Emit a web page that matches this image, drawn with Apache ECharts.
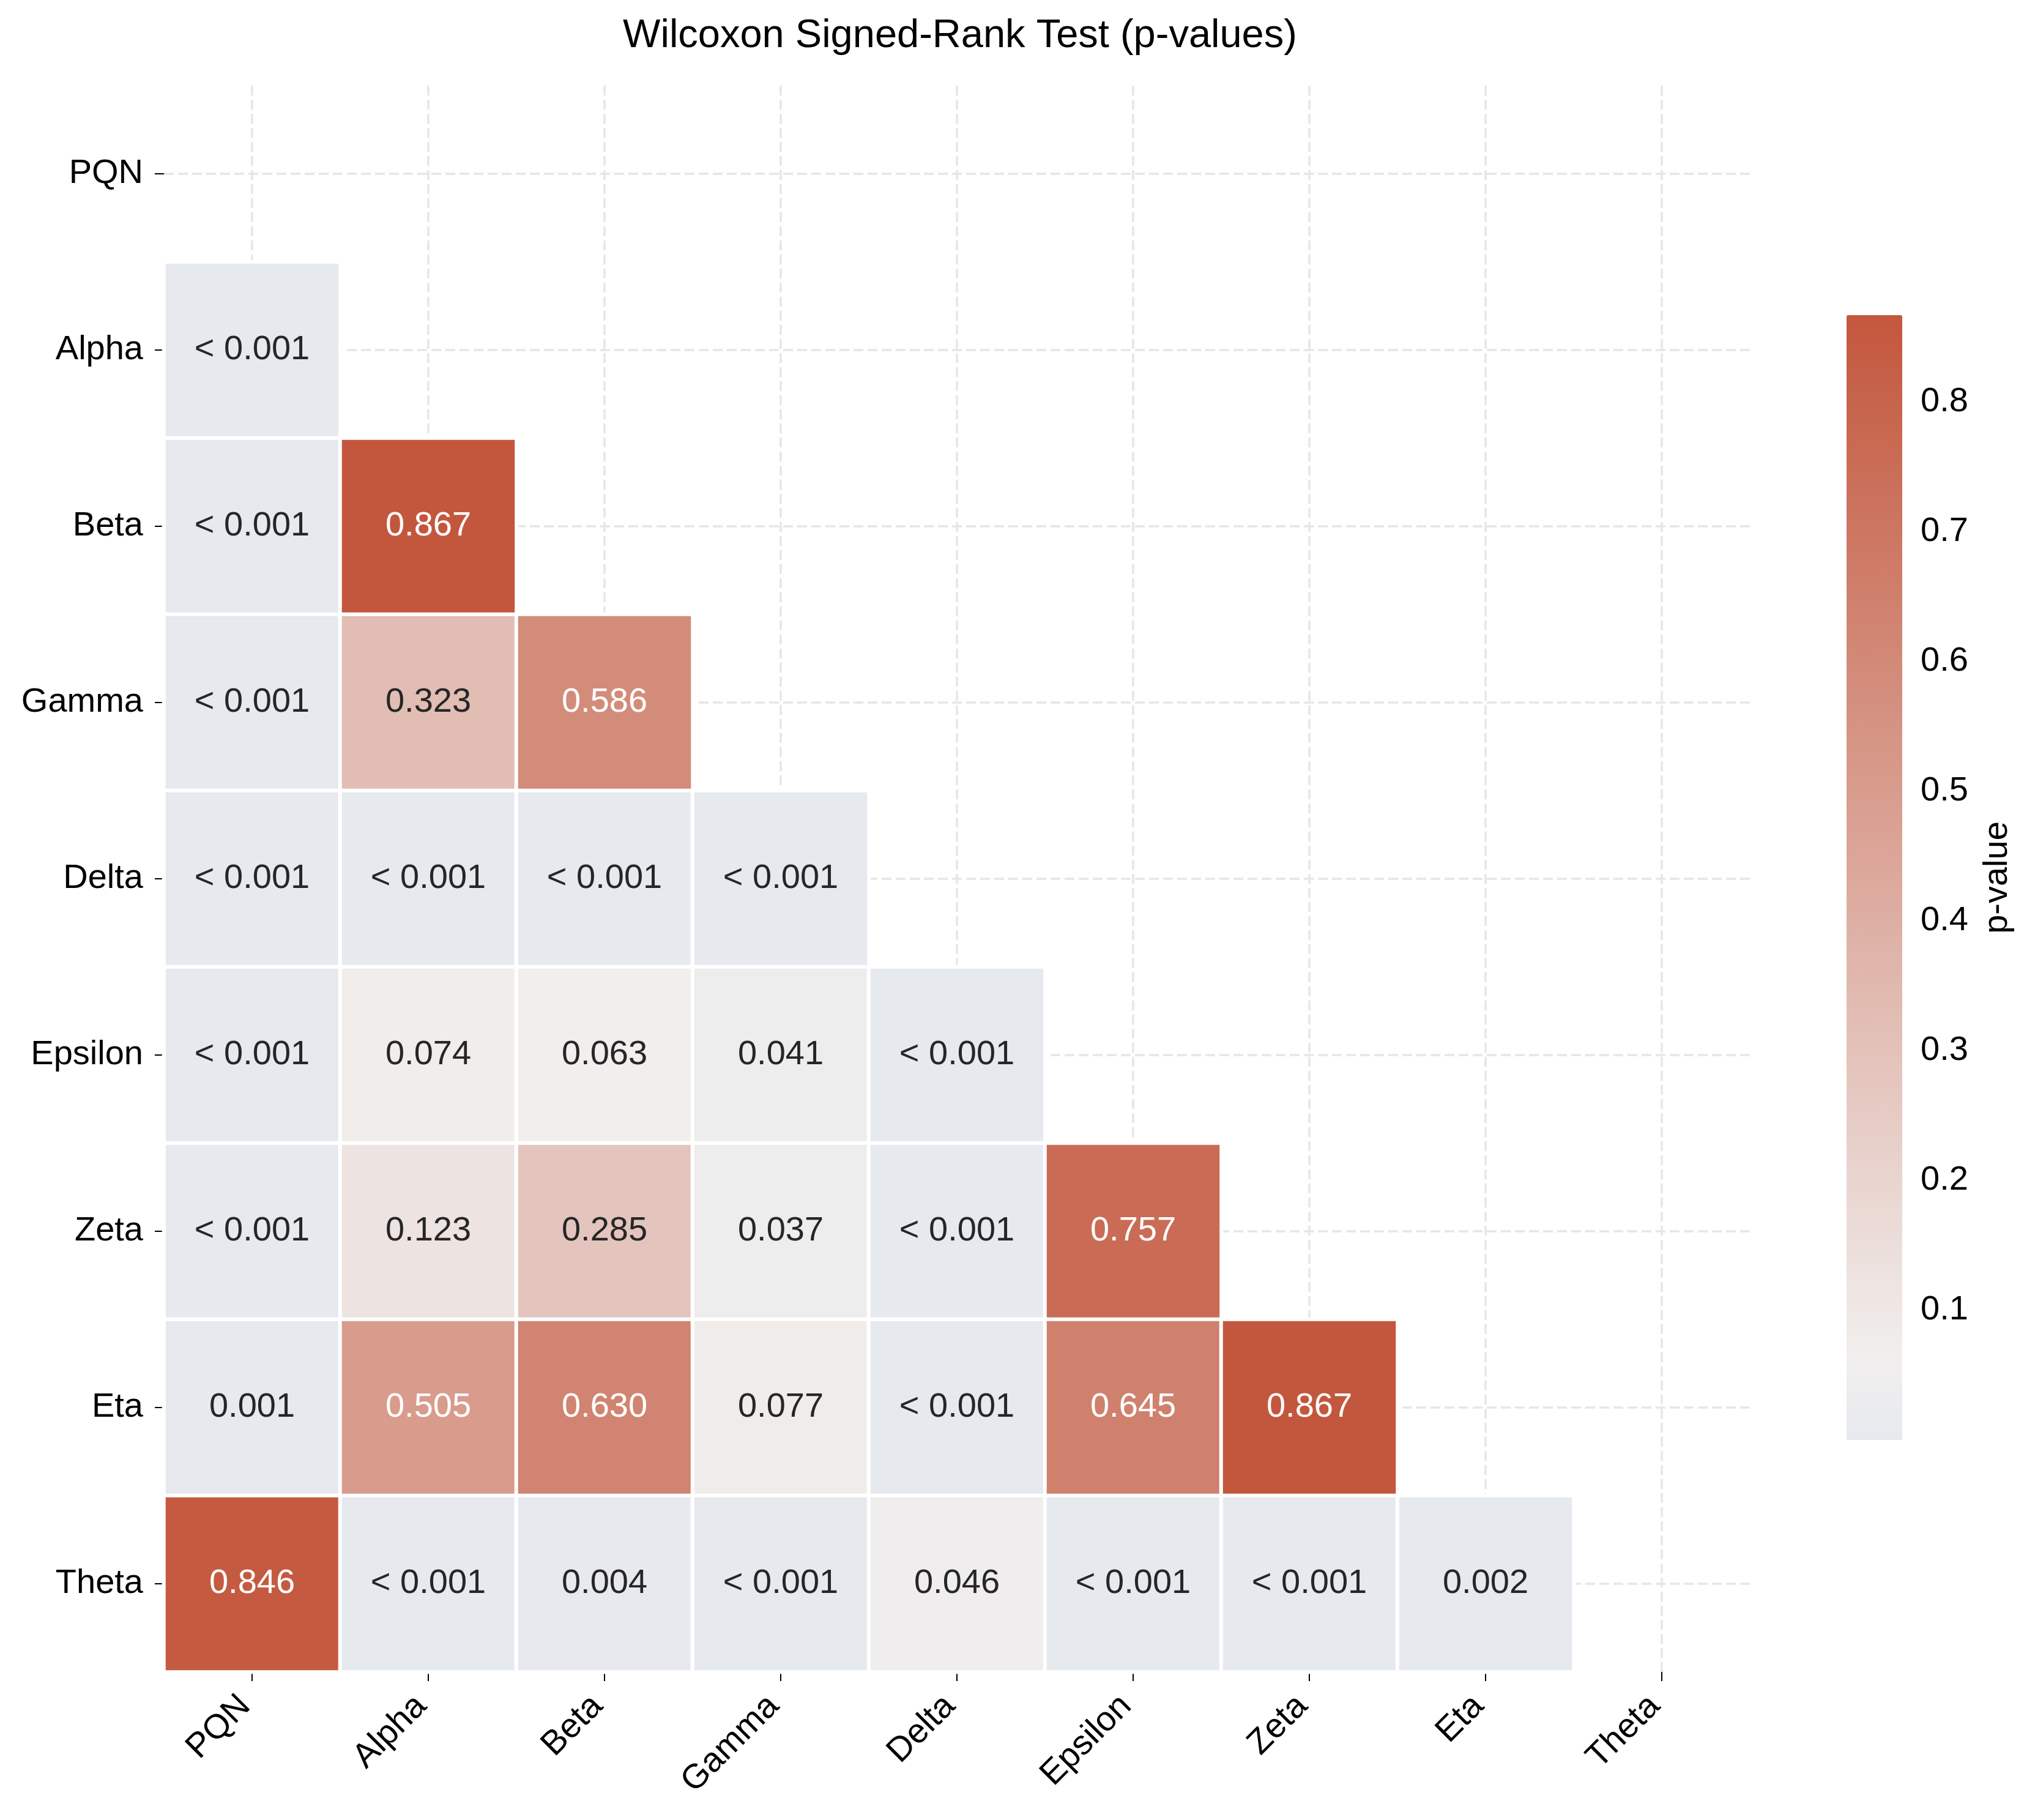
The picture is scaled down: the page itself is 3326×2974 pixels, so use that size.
<!DOCTYPE html>
<html>
<head>
    <meta charset="utf-8">
    <title>Wilcoxon Signed-Rank Test</title>
    <style>
        html, body { margin: 0; padding: 0; background: #fff; }
    </style>
</head>
<body>
    <div id="main" style="width: 3326px; height: 2974px;"></div>
    <script src="https://cdn.jsdelivr.net/npm/echarts@6/dist/echarts.min.js"></script>
    <script type="text/javascript">
        // groups, same order on both axes
        var categories = ['PQN', 'Alpha', 'Beta', 'Gamma', 'Delta', 'Epsilon', 'Zeta', 'Eta', 'Theta'];

        // cells shown as "< 0.001"
        var LT = 0.0005;

        // lower triangle, one row per group (columns from PQN onwards)
        var rowPQN = [];
        var rowAlpha = [LT];
        var rowBeta = [LT, 0.867];
        var rowGamma = [LT, 0.323, 0.586];
        var rowDelta = [LT, LT, LT, LT];
        var rowEpsilon = [LT, 0.074, 0.063, 0.041, LT];
        var rowZeta = [LT, 0.123, 0.285, 0.037, LT, 0.757];
        var rowEta = [0.001, 0.505, 0.630, 0.077, LT, 0.645, 0.867];
        var rowTheta = [0.846, LT, 0.004, LT, 0.046, LT, LT, 0.002];

        var colorbarTicks = [0.1, 0.2, 0.3, 0.4, 0.5, 0.6, 0.7, 0.8];

        var rows = [rowPQN, rowAlpha, rowBeta, rowGamma, rowDelta, rowEpsilon, rowZeta, rowEta, rowTheta];

        var FONT = '"Liberation Sans", Helvetica, Arial, sans-serif';

        var data = [];
        var vmax = 0;
        rows.forEach(function (row, i) {
            row.forEach(function (v, j) {
                vmax = Math.max(vmax, v);
                data.push({
                    value: [j, i, v],
                    label: { color: v > 0.45 ? '#ffffff' : '#262626' }
                });
            });
        });

        // colour ramp: blue-grey -> near white -> brick red
        function hex2rgb(h) {
            return [parseInt(h.substr(1, 2), 16), parseInt(h.substr(3, 2), 16), parseInt(h.substr(5, 2), 16)];
        }
        var anchors = [[0, '#e6e9ee'], [0.06, '#f1efee'], [0.867, '#c3573d']];
        function rampColor(v) {
            for (var k = 0; k < anchors.length - 1; k++) {
                var a = anchors[k], b = anchors[k + 1];
                if (v <= b[0] || k === anchors.length - 2) {
                    var t = Math.min(1, Math.max(0, (v - a[0]) / (b[0] - a[0])));
                    var ca = hex2rgb(a[1]), cb = hex2rgb(b[1]);
                    return 'rgb(' + ca.map(function (c, n) { return Math.round(c + (cb[n] - c) * t); }).join(',') + ')';
                }
            }
        }
        var stops = [];
        for (var s = 0; s <= 60; s++) stops.push(rampColor(vmax * s / 60));

        var chart = echarts.init(document.getElementById('main'));

        var option = {
            backgroundColor: '#ffffff',
            animation: false,
            title: {
                text: 'Wilcoxon Signed-Rank Test (p-values)',
                left: 1564,
                textAlign: 'center',
                top: 22,
                textStyle: { fontFamily: FONT, fontSize: 65, fontWeight: 'normal', color: '#000' }
            },
            grid: [
                { left: 268, top: 140, width: 2592, height: 2592 },
                { left: 3018, top: 515, width: 91, height: 1838 }
            ],
            xAxis: [
                {
                    type: 'category',
                    gridIndex: 0,
                    data: categories,
                    axisLine: { show: false },
                    axisTick: { show: true, alignWithLabel: true, length: 15, lineStyle: { color: '#000', width: 2 } },
                    axisLabel: {
                        rotate: 45, margin: 36, padding: [0, 16, 0, 0],
                        fontFamily: FONT, fontSize: 56, color: '#000', interval: 0
                    },
                    splitLine: { show: false }
                },
                {
                    type: 'value',
                    gridIndex: 1,
                    show: false
                }
            ],
            yAxis: [
                {
                    type: 'category',
                    gridIndex: 0,
                    data: categories,
                    inverse: true,
                    axisLine: { show: false },
                    axisTick: { show: true, alignWithLabel: true, length: 15, lineStyle: { color: '#000', width: 2 } },
                    axisLabel: { margin: 34, fontFamily: FONT, fontSize: 56, color: '#000', interval: 0 },
                    splitLine: { show: false }
                },
                {
                    type: 'value',
                    gridIndex: 1,
                    position: 'right',
                    min: 0,
                    max: vmax,
                    name: 'p-value',
                    nameLocation: 'middle',
                    nameGap: 128,
                    nameTextStyle: { fontFamily: FONT, fontSize: 56, color: '#000' },
                    axisLine: { show: false },
                    axisTick: { show: true, length: 16, customValues: colorbarTicks, lineStyle: { color: '#000', width: 2 } },
                    axisLabel: {
                        margin: 30, fontFamily: FONT, fontSize: 56, color: '#000',
                        customValues: colorbarTicks,
                        formatter: function (v) { return v.toFixed(1); }
                    },
                    splitLine: { show: false }
                }
            ],
            visualMap: {
                type: 'continuous',
                seriesIndex: 0,
                min: 0,
                max: vmax,
                calculable: false,
                hoverLink: false,
                showLabel: false,
                text: null,
                orient: 'vertical',
                left: 3018,
                top: 515,
                padding: 0,
                itemWidth: 91,
                itemHeight: 1838,
                inRange: { color: stops }
            },
            series: [
                {
                    type: 'heatmap',
                    xAxisIndex: 0,
                    yAxisIndex: 0,
                    z: 2,
                    data: data,
                    itemStyle: { borderColor: '#ffffff', borderWidth: 6 },
                    label: {
                        show: true,
                        fontFamily: FONT,
                        fontSize: 56,
                        formatter: function (p) {
                            var v = p.value[2];
                            return v < 0.001 ? '< 0.001' : v.toFixed(3);
                        }
                    },
                    emphasis: { disabled: true },
                    markLine: {
                        silent: true,
                        z: 1,
                        symbol: ['none', 'none'],
                        label: { show: false },
                        lineStyle: { color: '#e6e6e6', width: 3.5, type: [16, 7] },
                        emphasis: { disabled: true },
                        data: categories.map(function (c) { return { xAxis: c }; })
                            .concat(categories.map(function (c) { return { yAxis: c }; }))
                    }
                }
            ]
        };

        chart.setOption(option);
    </script>
</body>
</html>
